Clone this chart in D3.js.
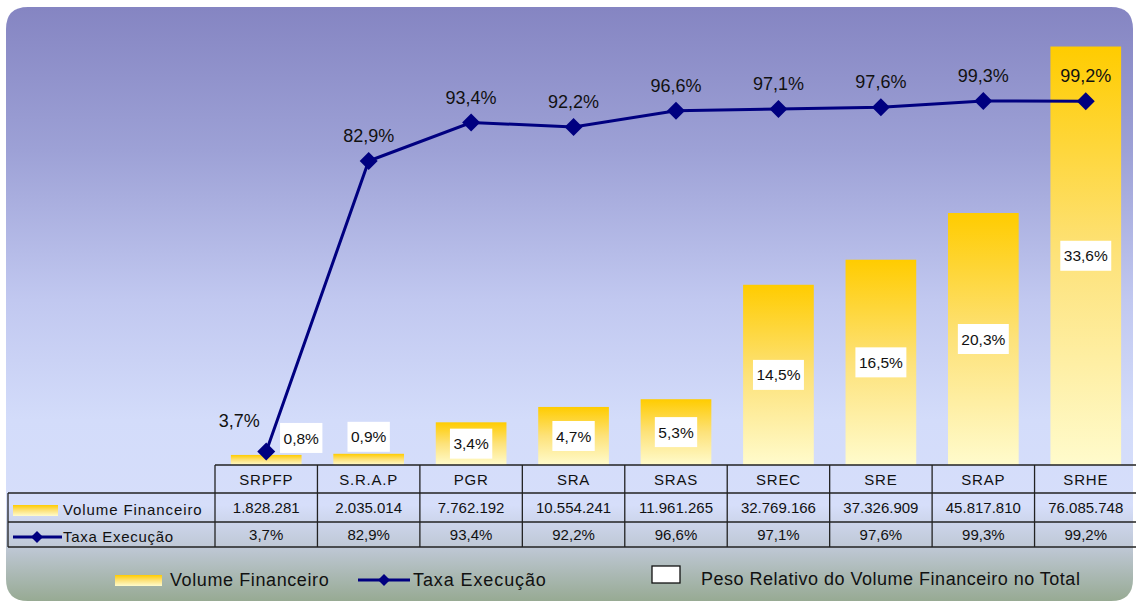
<!DOCTYPE html>
<html><head><meta charset="utf-8">
<script src="https://cdn.jsdelivr.net/npm/d3@7"></script>
<style>html,body{margin:0;padding:0;background:#fff;overflow:hidden}svg{display:block;font-family:"Liberation Sans",Arial,sans-serif}</style>
</head><body>
<svg id="c" width="1136" height="602"></svg>
<script>
const categories = ["SRPFP","S.R.A.P","PGR","SRA","SRAS","SREC","SRE","SRAP","SRHE"];
const volume = [1828281, 2035014, 7762192, 10554241, 11961265, 32769166, 37326909, 45817810, 76085748];
const taxa = [3.7, 82.9, 93.4, 92.2, 96.6, 97.1, 97.6, 99.3, 99.2];
const peso = [0.8, 0.9, 3.4, 4.7, 5.3, 14.5, 16.5, 20.3, 33.6];
const seriesNames = ["Volume Financeiro", "Taxa Execução"];
const legendPeso = "Peso Relativo do Volume Financeiro no Total";

const svg = d3.select("#c");
const defs = svg.append("defs");

const bg = defs.append("linearGradient").attr("id","bg").attr("gradientUnits","userSpaceOnUse")
  .attr("x1",0).attr("y1",7).attr("x2",0).attr("y2",601);
[[7,"#8585c2"],[150,"#9da1d6"],[300,"#c1c8f0"],[420,"#d3dcfa"],[505,"#d6defa"],[547,"#bfc8d6"],[601,"#97aa93"]]
  .forEach(([o,c])=>bg.append("stop").attr("offset",((o-7)/594)).attr("stop-color",c));

const bar = defs.append("linearGradient").attr("id","bar").attr("x1",0).attr("y1",0).attr("x2",0).attr("y2",1);
bar.append("stop").attr("offset",0).attr("stop-color","#ffcc00");
bar.append("stop").attr("offset",0.5).attr("stop-color","#fde27a");
bar.append("stop").attr("offset",1).attr("stop-color","#fffbcc");

const L=6,T=7,R=1133,B=601,r=22;
svg.append("path").attr("d",`M${L},${T+r} Q${L},${T} ${L+r},${T} L${R-r},${T} Q${R},${T} ${R},${T+r} L${R},${B-r} Q${R},${B} ${R-r},${B} L${L+r},${B} Q${L},${B} ${L},${B-r} Z`)
  .attr("fill","url(#bg)");

const x = d3.scaleBand().domain(categories).range([215,1137]).paddingInner(0.31).paddingOuter(0.155);
const xCol = d3.scaleBand().domain(categories).range([215,1137]);
const y1 = d3.scaleLinear().domain([0,80000000]).range([465,25]);
const y2 = d3.scaleLinear().domain([0,120]).range([465,25]);

svg.append("g").selectAll("rect").data(categories).join("rect")
  .attr("x",d=>x(d)).attr("width",x.bandwidth())
  .attr("y",(d,i)=>y1(volume[i])).attr("height",(d,i)=>y1(0)-y1(volume[i]))
  .attr("fill","url(#bar)");

const pl = svg.append("g").selectAll("g").data(categories).join("g")
  .attr("transform",(d,i)=>{
    const top=y1(volume[i]);
    let cx = x(d)+x.bandwidth()/2, cy;
    if (y1(0)-top < 40) { cy = top-17; if(i===0) cx += 35; }
    else cy = (top+y1(0))/2;
    return `translate(${cx},${cy})`;
  });
pl.append("text").attr("text-anchor","middle").attr("dy","0.36em").attr("font-size",15.5).attr("fill","#111")
  .text((d,i)=>d3.format(".1f")(peso[i]).replace(".",",")+"%");
pl.each(function(){
  const g=d3.select(this); const w=g.select("text").node().getComputedTextLength()+7;
  g.insert("rect","text").attr("x",-w/2).attr("y",-15).attr("width",w).attr("height",30).attr("fill","#fff");
});

const cx = d=>xCol(d)+xCol.bandwidth()/2;
const line = d3.line().x((d,i)=>cx(categories[i])).y(d=>y2(d));
svg.append("path").datum(taxa).attr("d",line).attr("fill","none").attr("stroke","#000080").attr("stroke-width",3);
svg.append("g").selectAll("path").data(taxa).join("path")
  .attr("transform",(d,i)=>`translate(${cx(categories[i])},${y2(d)})`)
  .attr("d","M0,-9L9,0L0,9L-9,0Z").attr("fill","#000080");
svg.append("g").selectAll("text").data(taxa).join("text")
  .attr("x",(d,i)=>cx(categories[i]) + (i===0?-27:0))
  .attr("y",(d,i)=>y2(d) - (i===0?24:19))
  .attr("text-anchor","middle").attr("font-size",18).attr("fill","#111")
  .text(d=>d3.format(".1f")(d).replace(".",",")+"%");

const tg = svg.append("g");
const rows = {top:465, h1:493, h2:522, bot:547};
const stroke = "#222";
tg.append("line").attr("x1",215).attr("x2",1137).attr("y1",rows.top).attr("y2",rows.top).attr("stroke",stroke).attr("stroke-width",1.3);
[rows.h1,rows.h2,rows.bot].forEach(yv=>tg.append("line").attr("x1",8).attr("x2",1137).attr("y1",yv).attr("y2",yv).attr("stroke",stroke).attr("stroke-width",1.3));
tg.append("line").attr("x1",8).attr("x2",8).attr("y1",rows.h1).attr("y2",rows.bot).attr("stroke",stroke).attr("stroke-width",1.3);
categories.forEach(c=>{
  tg.append("line").attr("x1",xCol(c)).attr("x2",xCol(c)).attr("y1",rows.top).attr("y2",rows.bot).attr("stroke",stroke).attr("stroke-width",1.3);
});
tg.selectAll("text.h").data(categories).join("text").attr("class","h")
  .attr("x",d=>cx(d)).attr("y",485).attr("text-anchor","middle").attr("font-size",15).attr("letter-spacing",0.8).attr("fill","#111").text(d=>d);
const fmtVol = v => d3.format(",")(v).replace(/,/g,".");
tg.selectAll("text.v").data(volume).join("text").attr("class","v")
  .attr("x",(d,i)=>cx(categories[i])).attr("y",513).attr("text-anchor","middle").attr("font-size",15).attr("fill","#111").text(fmtVol);
tg.selectAll("text.t").data(taxa).join("text").attr("class","t")
  .attr("x",(d,i)=>cx(categories[i])).attr("y",540).attr("text-anchor","middle").attr("font-size",15).attr("fill","#111")
  .text(d=>d3.format(".1f")(d).replace(".",",")+"%");
tg.append("rect").attr("x",13).attr("y",505).attr("width",45).attr("height",11).attr("fill","url(#bar)");
tg.append("text").attr("x",63).attr("y",515).attr("font-size",15).attr("letter-spacing",0.9).attr("fill","#111").text(seriesNames[0]);
tg.append("line").attr("x1",13).attr("x2",62).attr("y1",537).attr("y2",537).attr("stroke","#000080").attr("stroke-width",3);
tg.append("path").attr("transform","translate(37,537)").attr("d","M0,-6L6,0L0,6L-6,0Z").attr("fill","#000080");
tg.append("text").attr("x",63).attr("y",542).attr("font-size",15).attr("letter-spacing",0.7).attr("fill","#111").text(seriesNames[1]);

const lg = svg.append("g");
lg.append("rect").attr("x",115).attr("y",575).attr("width",47).attr("height",11).attr("fill","url(#bar)");
lg.append("text").attr("x",170).attr("y",586).attr("font-size",18).attr("letter-spacing",0.6).attr("fill","#111").text(seriesNames[0]);
lg.append("line").attr("x1",358).attr("x2",410).attr("y1",580).attr("y2",580).attr("stroke","#000080").attr("stroke-width",3);
lg.append("path").attr("transform","translate(384,580)").attr("d","M0,-6L6,0L0,6L-6,0Z").attr("fill","#000080");
lg.append("text").attr("x",413).attr("y",586).attr("font-size",18).attr("letter-spacing",0.9).attr("fill","#111").text(seriesNames[1]);
lg.append("rect").attr("x",652).attr("y",566).attr("width",28).attr("height",17).attr("fill","#fff").attr("stroke","#111").attr("stroke-width",1.3);
lg.append("text").attr("x",701).attr("y",585).attr("font-size",18).attr("letter-spacing",0.5).attr("fill","#111").text(legendPeso);
</script>
</body></html>
